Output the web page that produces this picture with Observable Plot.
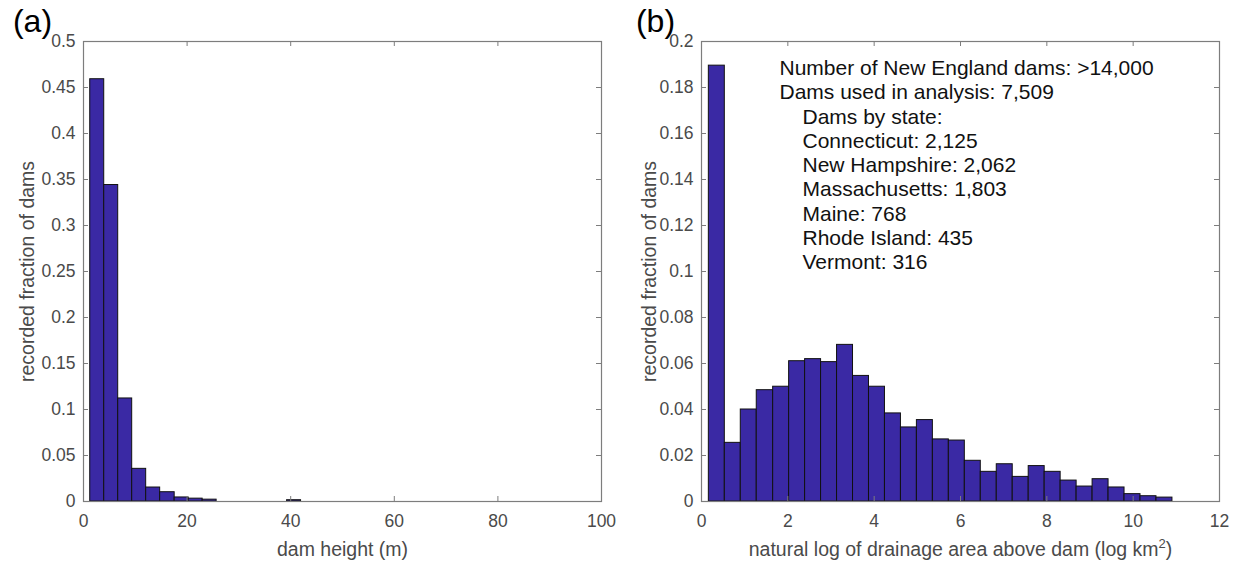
<!DOCTYPE html>
<html>
<head>
<meta charset="utf-8">
<script src="https://cdn.jsdelivr.net/npm/d3@7"></script>
<script src="https://cdn.jsdelivr.net/npm/@observablehq/plot@0.6"></script>
<style>
  html, body { margin: 0; padding: 0; background: #fff; }
  #fig { display: flex; width: 1243px; height: 564px; }
  #fig svg { display: block; }
</style>
</head>
<body>
<div id="fig"></div>
<script>
// ---- Panel (a): dam height histogram ----
const heightBinEdges = [1.3, 4.0, 6.7, 9.4, 12.1, 14.8, 17.6, 20.3, 23.0, 25.7, 28.4, 31.1, 33.9, 36.6, 39.3, 42.0];
const heightFractions = [0.459, 0.344, 0.112, 0.0355, 0.0152, 0.0101, 0.0044, 0.0031, 0.0020, 0, 0, 0, 0, 0, 0.0014];
const heightTicksX = [0, 20, 40, 60, 80, 100];
const heightTicksY = [0, 0.05, 0.1, 0.15, 0.2, 0.25, 0.3, 0.35, 0.4, 0.45, 0.5];

// ---- Panel (b): natural log of drainage area histogram ----
const areaBinEdges = [0.17, 0.54, 0.91, 1.28, 1.66, 2.03, 2.40, 2.77, 3.14, 3.51, 3.88, 4.25, 4.62, 4.99, 5.36, 5.73, 6.10, 6.47, 6.84, 7.21, 7.58, 7.95, 8.32, 8.69, 9.06, 9.43, 9.80, 10.17, 10.54, 10.91];
const areaFractions = [0.1895, 0.0255, 0.0400, 0.0484, 0.0499, 0.0610, 0.0619, 0.0606, 0.0681, 0.0546, 0.0499, 0.0383, 0.0322, 0.0354, 0.0270, 0.0265, 0.0177, 0.0129, 0.0162, 0.0107, 0.0154, 0.0129, 0.0091, 0.0065, 0.0097, 0.0061, 0.0032, 0.0023, 0.0017];
const areaTicksX = [0, 2, 4, 6, 8, 10, 12];
const areaTicksY = [0, 0.02, 0.04, 0.06, 0.08, 0.1, 0.12, 0.14, 0.16, 0.18, 0.2];

const statsHeader = ["Number of New England dams: >14,000", "Dams used in analysis: 7,509"];
const statsByState = ["Dams by state:", "Connecticut: 2,125", "New Hampshire: 2,062", "Massachusetts: 1,803", "Maine: 768", "Rhode Island: 435", "Vermont: 316"];

const BAR = "#3a29a4";
const FRAME = "#7d7d7d";
const TICKTXT = "#4a4a4a";
const FONT = "'Liberation Sans', Arial, Helvetica, sans-serif";

function bins(edges, vals) {
  return vals.map((v, i) => ({lo: edges[i], hi: edges[i + 1], f: v})).filter(d => d.f > 0);
}
const fmt = d3.format("~g");

function panel({width, marginLeft, marginRight, xDomain, yDomain, ticksX, ticksY, data, xLabel, yLabel, yLabelDx, tag, tagDx, extra = []}) {
  const height = 564, marginTop = 41, marginBottom = 63;
  const innerW = width - marginLeft - marginRight;
  const innerH = height - marginTop - marginBottom;
  const tk = 5;
  return Plot.plot({
    width, height, marginLeft, marginRight, marginTop, marginBottom,
    style: {fontFamily: FONT, background: "#fff", overflow: "visible"},
    x: {domain: xDomain},
    y: {domain: yDomain},
    marks: [
      Plot.rectY(data, {x1: "lo", x2: "hi", y1: 0, y2: "f", fill: BAR, stroke: "#111", strokeWidth: 1}),
      Plot.frame({stroke: FRAME, strokeWidth: 1.2}),
      // inward ticks, all four sides
      Plot.tickX(ticksX, {x: d => d, stroke: FRAME, insetTop: innerH - tk}),
      Plot.tickX(ticksX, {x: d => d, stroke: FRAME, insetBottom: innerH - tk}),
      Plot.tickY(ticksY, {y: d => d, stroke: FRAME, insetRight: innerW - tk}),
      Plot.tickY(ticksY, {y: d => d, stroke: FRAME, insetLeft: innerW - tk}),
      Plot.axisX({ticks: ticksX, tickSize: 0, tickPadding: 13, tickFormat: fmt, label: null, fontSize: 17.5, color: TICKTXT}),
      Plot.axisY({ticks: ticksY, tickSize: 0, tickPadding: 8, tickFormat: fmt, label: null, fontSize: 17.5, color: TICKTXT}),
      Plot.text([xLabel], {frameAnchor: "bottom", dy: 48, lineAnchor: "middle", textAnchor: "middle", fontSize: 19.5, fill: TICKTXT, className: "xlabel"}),
      Plot.text([yLabel], {frameAnchor: "left", dx: yLabelDx, rotate: -90, lineAnchor: "middle", textAnchor: "middle", fontSize: 19.5, fill: TICKTXT}),
      Plot.text([tag], {frameAnchor: "top-left", dx: tagDx, dy: -20, lineAnchor: "middle", textAnchor: "middle", fontSize: 32, fill: "#000"}),
      ...extra
    ]
  });
}

const svgA = panel({
  width: 620, marginLeft: 83, marginRight: 19,
  xDomain: [0, 100], yDomain: [0, 0.5],
  ticksX: heightTicksX, ticksY: heightTicksY,
  data: bins(heightBinEdges, heightFractions),
  xLabel: "dam height (m)", yLabel: "recorded fraction of dams", yLabelDx: -55.5,
  tag: "(a)", tagDx: -51
});

const svgB = panel({
  width: 623, marginLeft: 81, marginRight: 24,
  xDomain: [0, 12], yDomain: [0, 0.2],
  ticksX: areaTicksX, ticksY: areaTicksY,
  data: bins(areaBinEdges, areaFractions),
  xLabel: "natural log of drainage area above dam (log km²)", yLabel: "recorded fraction of dams", yLabelDx: -52,
  tag: "(b)", tagDx: -46,
  extra: [
    Plot.text([statsHeader.join("\n")], {frameAnchor: "top-left", dx: 78, dy: 16.5, lineAnchor: "top", textAnchor: "start", fontSize: 21, lineHeight: 1.155, fill: "#111"}),
    Plot.text([statsByState.join("\n")], {frameAnchor: "top-left", dx: 101, dy: 16.5 + 2 * 24.25, lineAnchor: "top", textAnchor: "start", fontSize: 21, lineHeight: 1.155, fill: "#111"})
  ]
});

// render the squared unit as a true superscript
d3.select(svgB).selectAll("g.xlabel text").each(function () {
  const t = d3.select(this);
  const s = t.text();
  if (!s.includes("km²")) return;
  const base = s.replace("km²)", "km");
  t.text(null);
  t.append("tspan").text(base);
  t.append("tspan").attr("font-size", "13px").attr("dy", "-8").text("2");
  t.append("tspan").attr("dy", "8").text(")");
});

document.getElementById("fig").append(svgA, svgB);
</script>
</body>
</html>
